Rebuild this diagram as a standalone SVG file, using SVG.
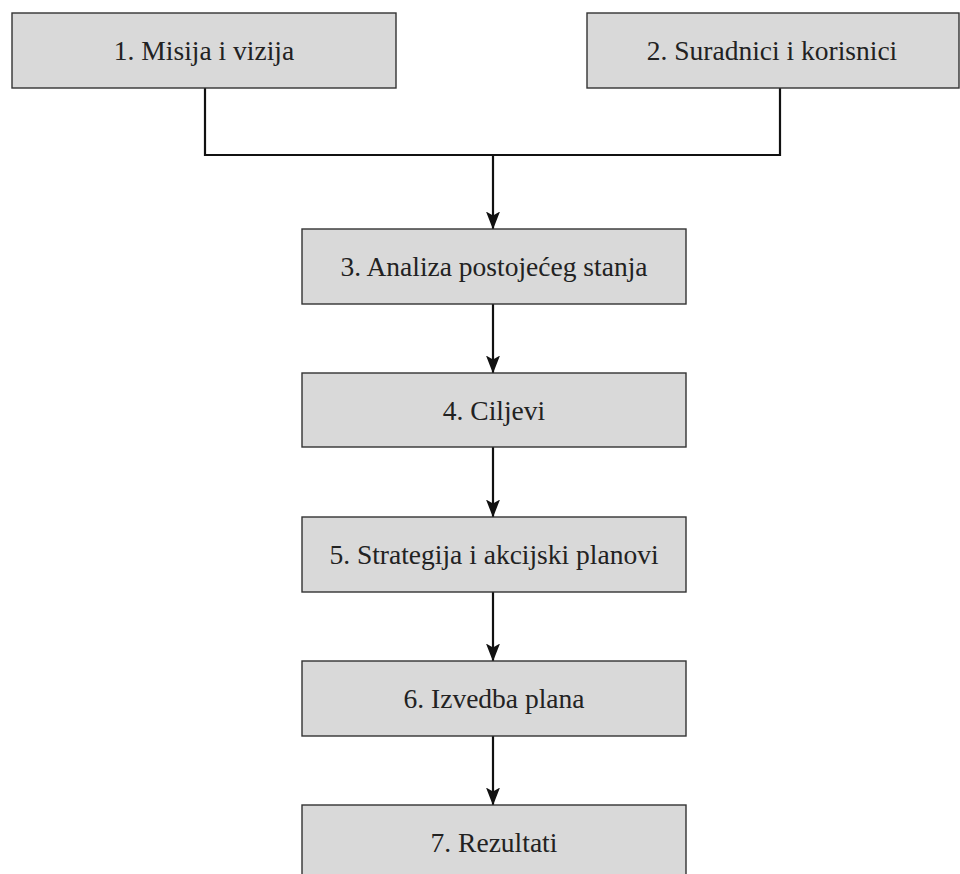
<svg xmlns="http://www.w3.org/2000/svg" width="960" height="874" viewBox="0 0 960 874">
<style>
.box{fill:#d9d9d9;stroke:#333;stroke-width:1.4}
.lbl{font-family:"Liberation Serif","DejaVu Serif",serif;font-size:27.5px;fill:#222;text-anchor:middle}
.con{fill:none;stroke:#111;stroke-width:2.2}
</style>
<defs>
<marker id="arr" markerUnits="userSpaceOnUse" markerWidth="18" markerHeight="14" viewBox="0 0 18 14" refX="17.5" refY="7" orient="auto">
<path d="M0,0 L4,7 L0,14 L18,7 Z" fill="#111"/>
</marker>
</defs>
<rect width="960" height="874" fill="#fff"/>
<g id="connectors">
<path class="con" d="M205,88 V155 H780 V88"/>
<path class="con" d="M493,155 V229" marker-end="url(#arr)"/>
<path class="con" d="M493,304 V373" marker-end="url(#arr)"/>
<path class="con" d="M493,447 V517" marker-end="url(#arr)"/>
<path class="con" d="M493,592 V661" marker-end="url(#arr)"/>
<path class="con" d="M493,736 V805" marker-end="url(#arr)"/>
</g>
<g id="n1"><rect class="box" x="12" y="13" width="384" height="75"/><text class="lbl" x="204" y="60">1. Misija i vizija</text></g>
<g id="n2"><rect class="box" x="587" y="13" width="372" height="75"/><text class="lbl" x="772" y="60">2. Suradnici i korisnici</text></g>
<g id="n3"><rect class="box" x="302" y="229" width="384" height="75"/><text class="lbl" x="494" y="276">3. Analiza postojećeg stanja</text></g>
<g id="n4"><rect class="box" x="302" y="373" width="384" height="74"/><text class="lbl" x="494" y="420">4. Ciljevi</text></g>
<g id="n5"><rect class="box" x="302" y="517" width="384" height="75"/><text class="lbl" x="494" y="564">5. Strategija i akcijski planovi</text></g>
<g id="n6"><rect class="box" x="302" y="661" width="384" height="75"/><text class="lbl" x="494" y="708">6. Izvedba plana</text></g>
<g id="n7"><rect class="box" x="302" y="805" width="384" height="75"/><text class="lbl" x="494" y="852">7. Rezultati</text></g>
</svg>
